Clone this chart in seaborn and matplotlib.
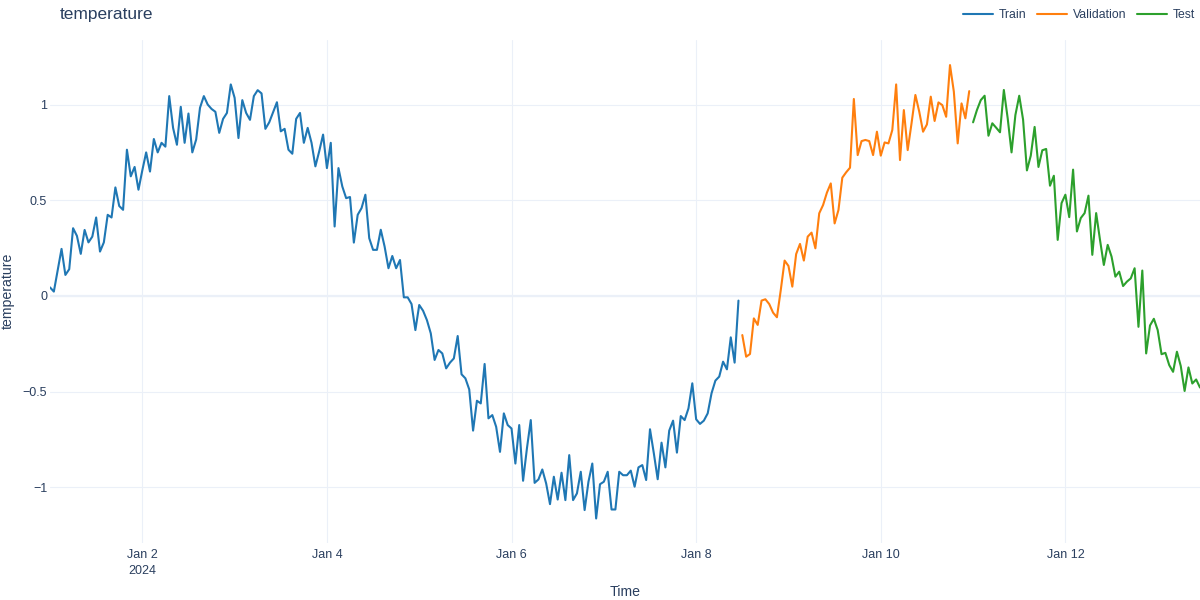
import pandas as pd
import numpy as np
import matplotlib.pyplot as plt
import seaborn as sns

# hourly readings
train = [
    0.045, 0.023, 0.136, 0.246, 0.11, 0.14, 0.354, 0.314, 0.22, 0.345,
    0.28, 0.31, 0.41, 0.232, 0.28, 0.424, 0.41, 0.567, 0.47, 0.45,
    0.764, 0.625, 0.674, 0.555, 0.656, 0.75, 0.65, 0.82, 0.75, 0.80,
    0.78, 1.044, 0.878, 0.79, 0.988, 0.80, 0.953, 0.75, 0.817, 0.983,
    1.044, 1.0, 0.977, 0.962, 0.852, 0.925, 0.956, 1.105, 1.035, 0.825,
    1.023, 0.956, 0.92, 1.044, 1.075, 1.058, 0.873, 0.907, 0.96, 1.012,
    0.86, 0.873, 0.764, 0.743, 0.925, 0.956, 0.80, 0.878, 0.80, 0.677,
    0.756, 0.843, 0.668, 0.80, 0.363, 0.668, 0.572, 0.511, 0.517, 0.279,
    0.424, 0.459, 0.529, 0.302, 0.241, 0.241, 0.346, 0.258, 0.145, 0.209,
    0.145, 0.188, -0.007, -0.007, -0.042, -0.178, -0.047, -0.077, -0.126, -0.195,
    -0.334, -0.282, -0.30, -0.378, -0.348, -0.326, -0.209, -0.409, -0.43, -0.488,
    -0.703, -0.547, -0.561, -0.355, -0.639, -0.622, -0.683, -0.814, -0.613, -0.674,
    -0.692, -0.875, -0.674, -0.965, -0.796, -0.648, -0.976, -0.958, -0.906, -0.979,
    -1.087, -0.944, -1.063, -0.923, -1.066, -0.831, -1.066, -1.031, -0.918, -1.118,
    -0.97, -0.875, -1.162, -0.983, -0.97, -0.918, -1.115, -1.115, -0.918, -0.936,
    -0.936, -0.912, -0.996, -0.895, -0.883, -0.961, -0.696, -0.822, -0.957, -0.766,
    -0.895, -0.703, -0.651, -0.818, -0.627, -0.648, -0.587, -0.456, -0.644, -0.668,
    -0.651, -0.613, -0.508, -0.442, -0.421, -0.343, -0.383, -0.216, -0.348, -0.024,
]
validation = [
    -0.204, -0.317, -0.303, -0.117, -0.151, -0.024, -0.017, -0.042, -0.087, -0.111,
    0.031, 0.185, 0.157, 0.049, 0.219, 0.272, 0.185, 0.31, 0.331, 0.249,
    0.432, 0.475, 0.54, 0.588, 0.379, 0.449, 0.618, 0.646, 0.67, 1.029,
    0.736, 0.809, 0.815, 0.809, 0.736, 0.858, 0.733, 0.802, 0.797, 0.867,
    1.105, 0.71, 0.971, 0.762, 0.902, 1.05, 0.963, 0.858, 0.896, 1.041,
    0.914, 1.011, 0.997, 0.936, 1.206, 1.067, 0.797, 1.006, 0.928, 1.07,
]
test = [
    0.907, 0.971, 1.023, 1.046, 0.837, 0.902, 0.879, 0.855, 1.076, 0.928,
    0.75, 0.945, 1.046, 0.921, 0.656, 0.733, 0.883, 0.674, 0.761, 0.768,
    0.576, 0.628, 0.293, 0.485, 0.529, 0.412, 0.66, 0.337, 0.407, 0.433,
    0.524, 0.215, 0.433, 0.293, 0.162, 0.267, 0.206, 0.101, 0.127, 0.052,
    0.075, 0.092, 0.145, -0.161, 0.133, -0.30, -0.154, -0.119, -0.178, -0.304,
    -0.297, -0.361, -0.396, -0.291, -0.366, -0.496, -0.373, -0.457, -0.436, -0.478,
]
start_time = "2024-01-01 00:00"

split_names = ["Train", "Validation", "Test"]
split_colors = ["#1f77b4", "#ff7f0e", "#2ca02c"]

y_ticks = [-1, -0.5, 0, 0.5, 1]
y_tick_labels = ["\u22121", "\u22120.5", "0", "0.5", "1"]
x_tick_dates = ["2024-01-02", "2024-01-04", "2024-01-06", "2024-01-08", "2024-01-10", "2024-01-12"]
x_tick_labels = ["Jan 2\n2024", "Jan 4", "Jan 6", "Jan 8", "Jan 10", "Jan 12"]

# Build long-format frame
values = train + validation + test
splits = (["Train"] * len(train) + ["Validation"] * len(validation) + ["Test"] * len(test))
df = pd.DataFrame({
    "Time": pd.date_range(start_time, periods=len(values), freq="h"),
    "temperature": values,
    "split": splits,
})

sns.set_theme(style="white")
plt.rcParams["font.family"] = ["Liberation Sans", "DejaVu Sans"]
text_color = "#2a3f5f"
grid_color = "#ebf0f8"

fig = plt.figure(figsize=(12, 6), dpi=100)
ax = fig.add_axes([50 / 1200, 57 / 600, 1150 / 1200, 503 / 600])

sns.lineplot(data=df, x="Time", y="temperature", hue="split", hue_order=split_names,
             palette=dict(zip(split_names, split_colors)), linewidth=1.5, ax=ax)

ax.set_xlim(df["Time"].iloc[0], df["Time"].iloc[-1])
ax.set_ylim(-1.29, 1.337)
ax.set_yticks(y_ticks)
ax.set_yticklabels(y_tick_labels)
ax.set_xticks(pd.to_datetime(x_tick_dates))
ax.set_xticklabels(x_tick_labels, linespacing=1.45, va="top")
ax.tick_params(length=0, labelsize=9, labelcolor=text_color)
ax.tick_params(axis="y", pad=2)
ax.tick_params(axis="x", pad=4)

ax.set_axisbelow(True)
ax.grid(True, color=grid_color, linewidth=0.8)
ax.axhline(0, color=grid_color, linewidth=1.6, zorder=0.6)
sns.despine(ax=ax, left=True, bottom=True, top=True, right=True)

ax.set_xlabel("")
ax.set_ylabel("")
fig.text(625 / 1200, 1 - 592 / 600, "Time", ha="center", va="center", fontsize=10.2, color=text_color)
fig.text(8 / 1200, 1 - 291 / 600, "temperature", ha="center", va="center", rotation=90,
         fontsize=10.2, color=text_color)
fig.text(60 / 1200, 1 - 15 / 600, "temperature", ha="left", va="center", fontsize=12.5, color=text_color)

sns.move_legend(ax, "center right", bbox_to_anchor=(1195 / 1200, 1 - 15 / 600),
                bbox_transform=fig.transFigure, ncol=3, frameon=False, title=None,
                fontsize=8.8, handlelength=2.5, handletextpad=0.45, columnspacing=0.85,
                borderpad=0, borderaxespad=0)
for t in ax.get_legend().get_texts():
    t.set_color(text_color)

fig.savefig("out.png", dpi=100)
